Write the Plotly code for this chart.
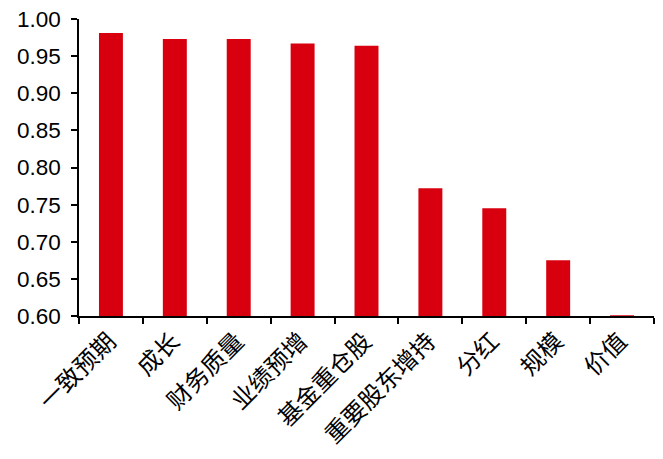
import plotly.graph_objects as go

categories = ["一致预期", "成长", "财务质量", "业绩预增", "基金重仓股", "重要股东增持", "分红", "规模", "价值"]
values = [0.981, 0.973, 0.973, 0.967, 0.964, 0.772, 0.745, 0.675, 0.601]
y_ticks = [0.60, 0.65, 0.70, 0.75, 0.80, 0.85, 0.90, 0.95, 1.00]

fig = go.Figure(go.Bar(
    x=categories, y=values, marker=dict(color="#D8000F", line=dict(width=0)),
))
fig.update_layout(
    width=663, height=459,
    margin=dict(l=71, r=17, t=11, b=151),
    paper_bgcolor="white", plot_bgcolor="white",
    bargap=0.625, showlegend=False,
    font=dict(family="Liberation Sans, Arial, Noto Sans CJK SC", color="black"),
)
fig.update_yaxes(
    range=[0.60, 1.00], tickvals=y_ticks, ticktext=[f"{v:.2f}" for v in y_ticks],
    showgrid=False, zeroline=False, showline=True, linecolor="black", linewidth=1.5,
    ticks="outside", ticklen=6, tickwidth=1.5, tickcolor="black",
    tickfont=dict(size=22.5, family="Liberation Sans, Arial"),
    ticklabelstandoff=6, ticklabeloverflow="allow",
    automargin=False,
)
fig.update_xaxes(
    showgrid=False, showline=True, linecolor="black", linewidth=1.5,
    ticks="outside", ticklen=6, tickwidth=1.5, tickcolor="black", tickson="boundaries",
    tickangle=-45, tickfont=dict(size=24, family="Noto Sans CJK SC"),
    ticklabelshift=-2, ticklabeloverflow="allow", automargin=False,
)
fig.write_html("out.html")
